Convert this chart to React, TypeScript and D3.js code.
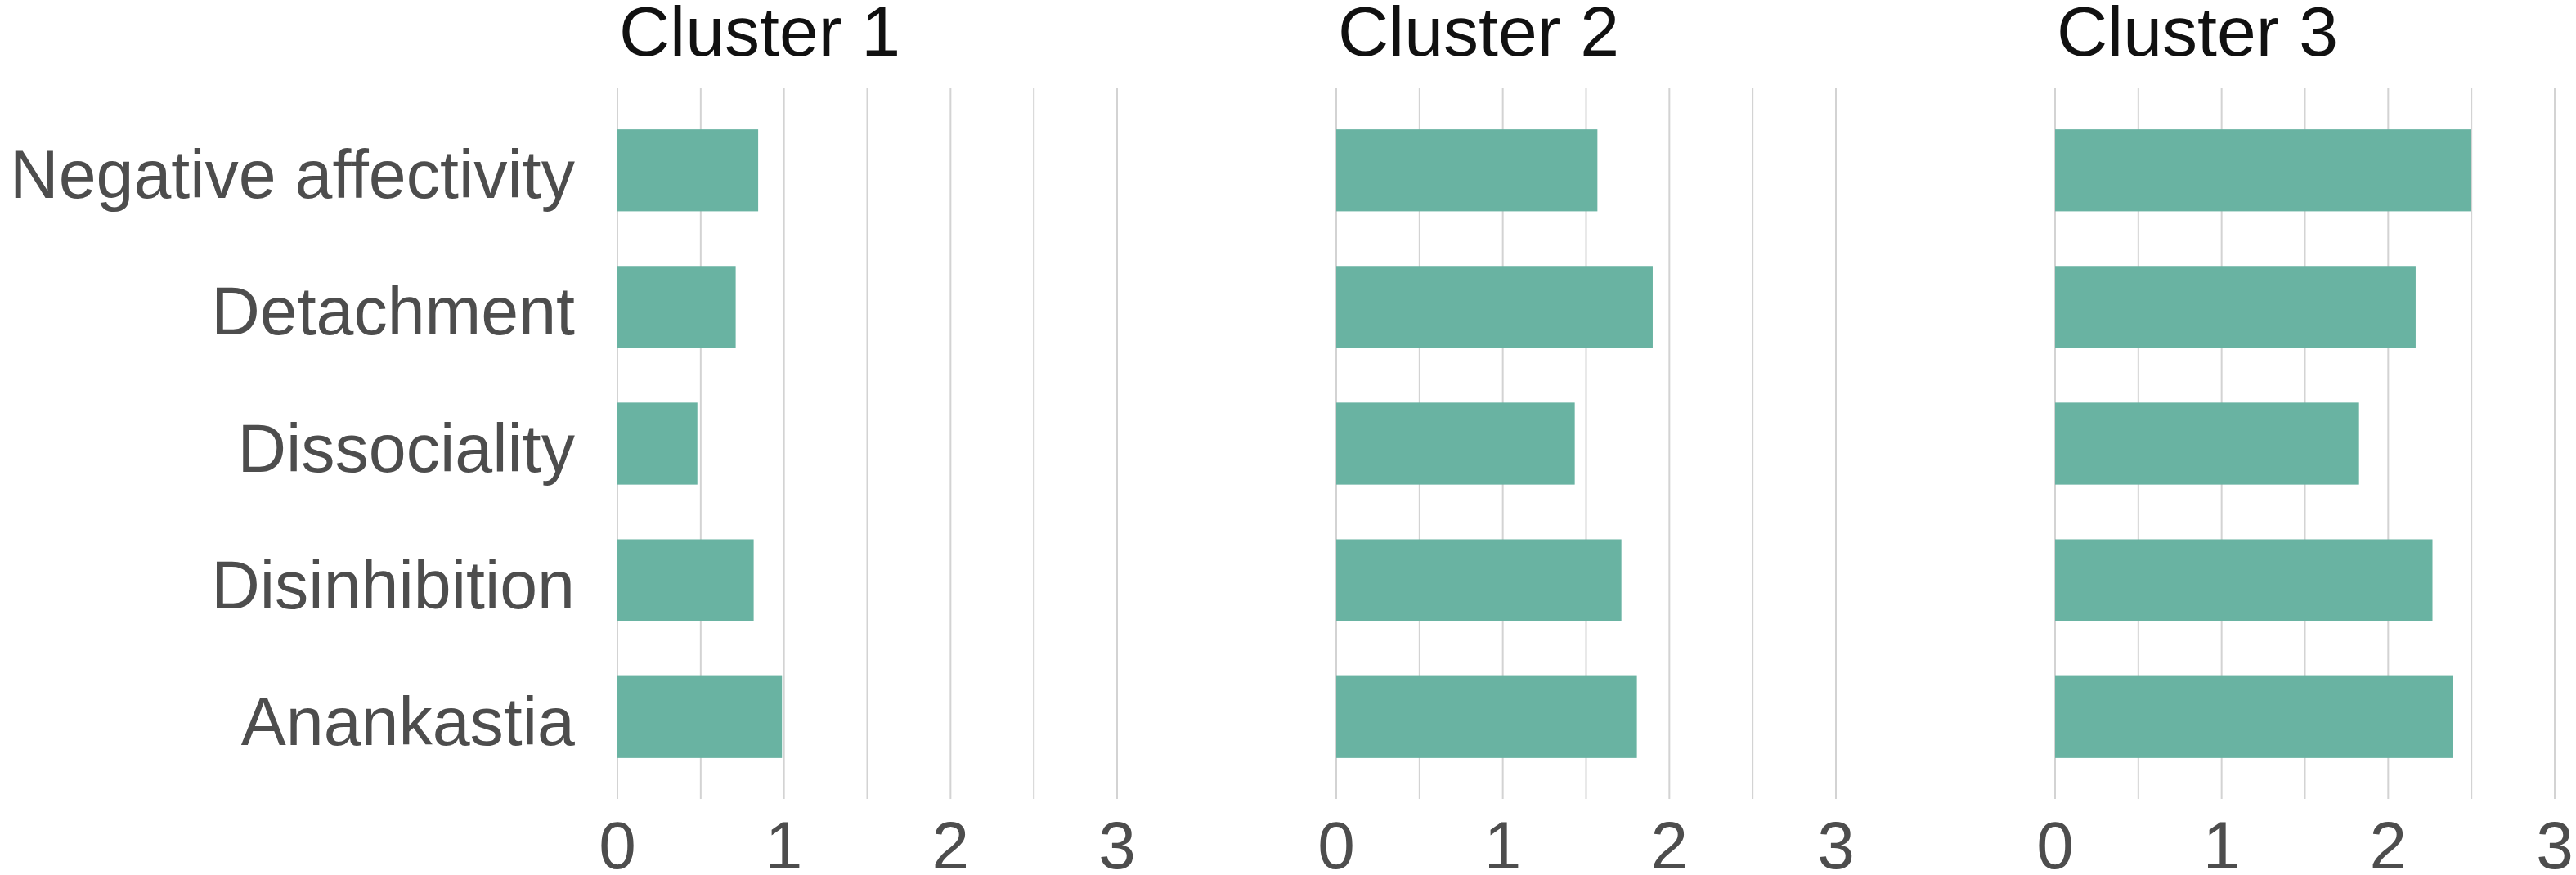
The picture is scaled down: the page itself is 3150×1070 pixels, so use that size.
import { useEffect, useRef } from 'react'
import * as d3 from 'd3'

const traits = ['Negative affectivity', 'Detachment', 'Dissociality', 'Disinhibition', 'Anankastia']
const clusters = ['Cluster 1', 'Cluster 2', 'Cluster 3']
const cluster1 = [0.845, 0.71, 0.48, 0.818, 0.988]
const cluster2 = [1.568, 1.9, 1.432, 1.712, 1.805]
const cluster3 = [2.497, 2.165, 1.825, 2.266, 2.387]
const tickValues = [0, 1, 2, 3]
const gridValues = [0, 0.5, 1, 1.5, 2, 2.5, 3]

const WIDTH = 3150
const HEIGHT = 1070

function App() {
  const ref = useRef<SVGSVGElement | null>(null)

  useEffect(() => {
    const node = ref.current
    if (!node) return
    const svg = d3.select(node)
    svg.selectAll('*').remove()

    const font = '"Liberation Sans", Arial, sans-serif'
    const panelLeft = 755
    const panelStep = 879
    const panelWidth = 611
    const top = 108
    const bottom = 977

    const y = d3.scaleBand<string>().domain(traits).range([top, bottom]).paddingInner(0.4).paddingOuter(0.3)

    const series = [cluster1, cluster2, cluster3]

    series.forEach((values, i) => {
      const x0 = panelLeft + i * panelStep
      const x = d3.scaleLinear().domain([0, 3]).range([x0, x0 + panelWidth])
      const g = svg.append('g')

      g.selectAll('line.grid')
        .data(gridValues)
        .enter()
        .append('line')
        .attr('class', 'grid')
        .attr('x1', (d) => x(d))
        .attr('x2', (d) => x(d))
        .attr('y1', top)
        .attr('y2', bottom)
        .attr('stroke', '#d3d3d3')
        .attr('stroke-width', 2)

      g.selectAll('rect.bar')
        .data(values)
        .enter()
        .append('rect')
        .attr('class', 'bar')
        .attr('x', x(0))
        .attr('y', (_, j) => y(traits[j]) as number)
        .attr('width', (d) => x(d) - x(0))
        .attr('height', y.bandwidth())
        .attr('fill', '#69b3a2')

      g.selectAll('text.tick')
        .data(tickValues)
        .enter()
        .append('text')
        .attr('class', 'tick')
        .attr('x', (d) => x(d))
        .attr('y', 1062)
        .attr('text-anchor', 'middle')
        .attr('font-family', font)
        .attr('font-size', 82)
        .attr('fill', '#4d4d4d')
        .text((d) => d3.format('d')(d))

      g.append('text')
        .attr('x', x(0) + 2)
        .attr('y', 68)
        .attr('font-family', font)
        .attr('font-size', 86)
        .attr('fill', '#111')
        .text(clusters[i])
    })

    svg
      .append('g')
      .selectAll('text')
      .data(traits)
      .enter()
      .append('text')
      .attr('x', 703)
      .attr('y', (d) => (y(d) as number) + y.bandwidth() / 2 + 34)
      .attr('text-anchor', 'end')
      .attr('font-family', font)
      .attr('font-size', 82.5)
      .attr('fill', '#4d4d4d')
      .text((d) => d)
  }, [])

  return (
    <div style={{ position: 'absolute', left: 0, top: 0, width: WIDTH, height: HEIGHT, background: '#fff' }}>
      <svg ref={ref} width={WIDTH} height={HEIGHT} style={{ display: 'block' }} />
    </div>
  )
}

export default App
